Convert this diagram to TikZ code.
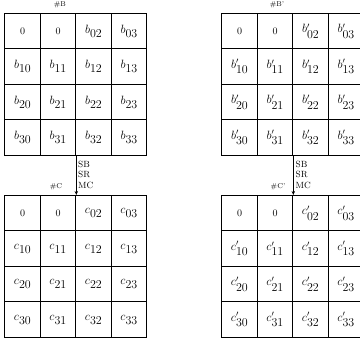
\documentclass[tikz,border=0pt]{standalone}
\usepackage{tikz}
\usetikzlibrary{arrows.meta,positioning}
\tikzset{
  >={Stealth[length=4pt,width=3.5pt]},
  cell/.style={draw,line width=0.8pt,minimum size=35.5pt,inner sep=0pt,anchor=north west,font=\large},
  tag/.style={font=\scriptsize,inner sep=1pt},
  op/.style={anchor=west,inner sep=0pt,font=\small},
  flow/.style={->,line width=0.7pt},
}

\begin{document}
\begin{tikzpicture}[x=1pt,y=-1pt]
    \useasboundingbox (0,0) rectangle (360,345);
    % the four state grids
    \foreach \g/\s/\x/\y in {B/b/4.5/13, Bp/b'/221.5/13, C/c/4.5/195, Cp/c'/221.5/195}
    {
      \foreach \row in {0,...,3} \foreach \col in {0,...,3} {
        \ifnum\row=0 \ifnum\col<2 \def\txt{{\normalsize 0}}\else\def\txt{$\s_{\mbox{\row\col}}$}\fi
        \else\def\txt{$\s_{\mbox{\row\col}}$}\fi
        \node[cell] (\g-\row-\col) at (\x+\col*35.5,\y+\row*35.5) {\txt};
      }
    }
    \node[tag] (tB) at (60,5) {\#B};
    \node[tag] (tBp) at (277,5) {\#B'};
    \node[tag] (tC) at (56,187) {\#C};
    \node[tag] (tCp) at (278,187) {\#C'};
    % round steps
    \draw[flow] (B-3-1.south east) -- (C-0-1.north east);
    \draw[flow] (Bp-3-1.south east) -- (Cp-0-1.north east);
    \foreach \t [count=\i] in {SB,SR,MC} {
      \node[op] (l\i) at (78,153.5+\i*10.5) {\t};
      \node[op] (r\i) at (295.5,153.5+\i*10.5) {\t};
    }
\end{tikzpicture}
\end{document}
